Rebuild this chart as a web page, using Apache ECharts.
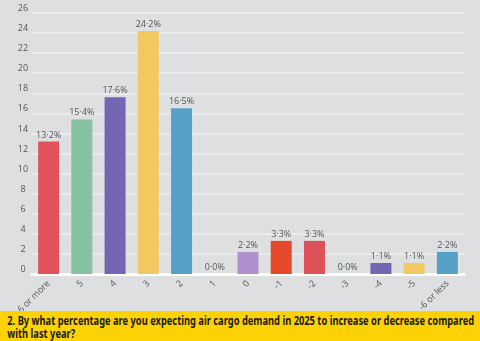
<!DOCTYPE html>
<html>
<head>
<meta charset="utf-8">
<script src="https://cdn.jsdelivr.net/npm/echarts@6/dist/echarts.min.js"></script>
<style>
  html, body { margin: 0; padding: 0; background: #dedfe1; }
  #chart { width: 480px; height: 311px; }
  .footer {
    position: absolute; left: 0; top: 311px; width: 480px; height: 30px;
    background: #fdd203; overflow: hidden;
  }
  .footer div {
    width: 585px; padding: 3px 0 0 9px; transform: scaleX(0.81); transform-origin: 0 0;
    font-family: "Noto Sans", sans-serif;
    font-weight: 700; font-size: 11.5px; line-height: 13px; color: #1a1a1a;
  }
</style>
</head>
<body>
<div id="chart"></div>
<div class="footer"><div>2. By what percentage are you expecting air cargo demand in 2025 to increase or decrease compared with last year?</div></div>
<script>
const categories = ['6 or more', '5', '4', '3', '2', '1', '0', '-1', '-2', '-3', '-4', '-5', '-6 or less']
const values = [13.2, 15.4, 17.6, 24.2, 16.5, 0, 2.2, 3.3, 3.3, 0, 1.1, 1.1, 2.2]
const barColors = ['#e0535b', '#86c1a1', '#7565b4', '#f2c961', '#56a0c8', '#b090cc', '#b090cc',
  '#e64a2b', '#dd5158', '#7565b4', '#7565b4', '#f2c961', '#56a0c8']
const yMax = 26
const yStep = 2

const chart = echarts.init(document.getElementById('chart'))

chart.setOption({
  backgroundColor: '#dedfe1',
  animation: false,
  grid: { left: 32, right: 16, top: 13, bottom: 37, outerBoundsMode: 'none' },
  xAxis: {
    type: 'category',
    data: categories,
    axisTick: { show: false },
    axisLine: { lineStyle: { color: '#ffffff', width: 3 } },
    axisLabel: {
      color: '#555',
      fontSize: 9,
      fontFamily: 'Open Sans',
      rotate: 45,
      interval: 0,
      margin: 8
    }
  },
  yAxis: {
    type: 'value',
    min: 0,
    max: yMax,
    interval: yStep,
    axisLine: { show: false },
    axisTick: { show: false },
    axisLabel: {
      color: '#555',
      fontSize: 9,
      fontFamily: 'Open Sans',
      align: 'center',
      verticalAlign: 'bottom',
      margin: 9
    },
    splitLine: { lineStyle: { color: '#ebebed', width: 2 } }
  },
  series: [
    {
      type: 'bar',
      barWidth: 21,
      data: values.map((v, i) => ({ value: v, itemStyle: { color: barColors[i] } })),
      label: {
        show: true,
        position: 'top',
        distance: 2,
        color: '#555',
        fontSize: 9,
        fontFamily: 'Open Sans',
        formatter: ({ value }) => value.toFixed(1).replace('.', '·') + '%'
      }
    }
  ]
})
</script>
</body>
</html>
